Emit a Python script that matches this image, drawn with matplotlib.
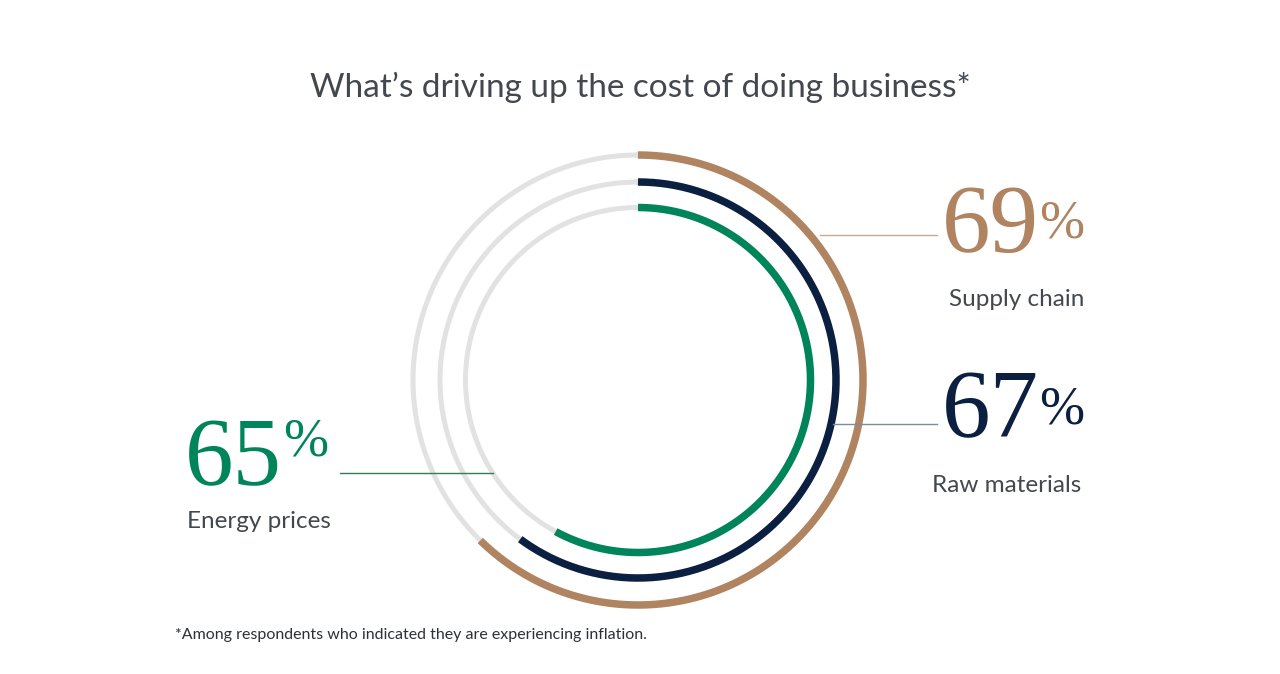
import numpy as np
from matplotlib import pyplot as plt

# data
categories = ['Supply chain', 'Raw materials', 'Energy prices']
values = [69, 67, 65]
colors = ['#b08461', '#0b1f41', '#00845a']
line_colors = ['#c9ab92', '#7f8b9c', '#2f7d5a']
title = 'What\u2019s driving up the cost of doing business*'
footnote = '*Among respondents who indicated they are experiencing inflation.'

W, H = 1280, 674
cx, cy = 638, 380
radii = [225, 198, 172.5]


def arc_span(v):
    # arcs in the source graphic are scaled, not a literal 3.6 deg/pct
    return 4.0 * v - 51.5


fig = plt.figure(figsize=(W / 100, H / 100), dpi=100)
ax = fig.add_axes([0, 0, 1, 1])
ax.set_xlim(0, W)
ax.set_ylim(H, 0)
ax.set_aspect('equal')
ax.axis('off')

t = np.linspace(0, 2 * np.pi, 400)
for r, v, c in zip(radii, values, colors):
    ax.plot(cx + r * np.sin(t), cy - r * np.cos(t), color='#e2e2e2', lw=3.6, zorder=1)
    a = np.radians(np.linspace(0, arc_span(v), 300))
    ax.plot(cx + r * np.sin(a), cy - r * np.cos(a), color=c, lw=5.4,
            solid_capstyle='butt', zorder=2)

sans = 'Lato'
label_col = '#43484f'
ax.text(640, 87, title, ha='center', va='center', fontsize=24,
        family=sans, color=label_col)

serif = 'Liberation Serif'

# leader lines
ax.plot([820, 937], [235, 235], color=line_colors[0], lw=1.0)
ax.plot([833, 937], [424, 424], color=line_colors[1], lw=1.0)
ax.plot([340, 493], [473, 473], color=line_colors[2], lw=1.0)

# supply chain
ax.text(1039, 252, str(values[0]), ha='right', va='baseline', fontsize=70,
        family=serif, color=colors[0])
ax.text(1084, 238, '%', ha='right', va='baseline', fontsize=39,
        family=serif, color=colors[0])
ax.text(1084, 300, categories[0], ha='right', va='center', fontsize=17.5,
        family=sans, color=label_col)

# raw materials
ax.text(1039, 437, str(values[1]), ha='right', va='baseline', fontsize=70,
        family=serif, color=colors[1])
ax.text(1084, 423, '%', ha='right', va='baseline', fontsize=39,
        family=serif, color=colors[1])
ax.text(1081, 486, categories[1], ha='right', va='center', fontsize=17.5,
        family=sans, color=label_col)

# energy prices
ax.text(282, 485, str(values[2]), ha='right', va='baseline', fontsize=70,
        family=serif, color=colors[2])
ax.text(328, 456, '%', ha='right', va='baseline', fontsize=39,
        family=serif, color=colors[2])
ax.text(259, 522, categories[2], ha='center', va='center', fontsize=17.5,
        family=sans, color=label_col)

ax.text(175, 635, footnote, ha='left', va='center', fontsize=11.5,
        family=sans, color='#2d3136')

fig.savefig('out.png', dpi=100)
